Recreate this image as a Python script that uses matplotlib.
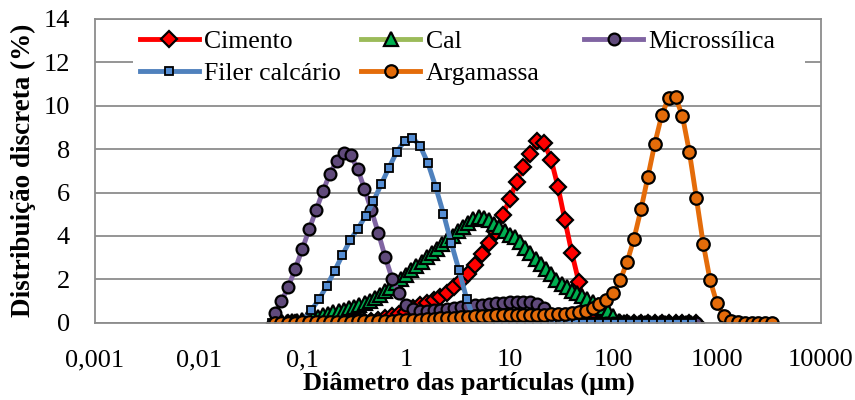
import matplotlib
matplotlib.use('Agg')
import matplotlib.pyplot as plt
from matplotlib.ticker import FixedLocator, FixedFormatter, NullLocator
from matplotlib.patches import Rectangle

plt.rcParams['font.family'] = ['Liberation Serif', 'DejaVu Serif']

# diameters (um) - common grid (cimento, microssilica, argamassa)
diam = [0.0540, 0.0630, 0.0734, 0.0856, 0.0998, 0.1163, 0.1356, 0.1581, 0.1844, 0.2150, 0.2506, 0.2922, 0.3407, 0.3972, 0.4632,
        0.540, 0.630, 0.734, 0.856, 0.998, 1.163, 1.356, 1.581, 1.844, 2.150, 2.506, 2.922, 3.407, 3.972, 4.632,
        5.40, 6.30, 7.34, 8.56, 9.98, 11.63, 13.56, 15.81, 18.44, 21.50, 25.06, 29.22, 34.07, 39.72, 46.32,
        54.0, 63.0, 73.4, 85.6, 99.8, 116.3, 135.6, 158.1, 184.4, 215.0, 250.6, 292.2, 340.7, 397.2, 463.2,
        540, 630, 734, 856, 998, 1163, 1356, 1581, 1844, 2150, 2506, 2922, 3407]

cimento = [0.0, 0.0, 0.0, 0.01, 0.01, 0.01, 0.02, 0.02, 0.02, 0.03, 0.03, 0.04, 0.05,
           0.06, 0.1, 0.15, 0.22, 0.3, 0.4, 0.51, 0.66, 0.81, 0.92, 1.04, 1.2, 1.38, 1.66, 1.93,
           2.24, 2.65, 3.16, 3.68, 4.19, 4.95, 5.69, 6.49, 7.18, 7.79, 8.35, 8.28, 7.52, 6.26,
           4.72, 3.22, 1.89, 0.6, 0.1,
           0, 0, 0, 0, 0, 0, 0, 0, 0, 0, 0, 0, 0, 0, 0]

microssilica = [0.43, 1.0, 1.66, 2.5, 3.38, 4.30, 5.18, 6.06, 6.87, 7.45, 7.82, 7.71, 7.10, 6.18,
                5.18, 4.15, 3.03, 2.04, 1.35, 0.81,
                0.62, 0.55, 0.55, 0.57, 0.6, 0.64, 0.68, 0.72, 0.76, 0.8, 0.84, 0.87, 0.9, 0.92,
                0.94, 0.96, 0.97, 0.95, 0.88, 0.7, 0.35, 0.08,
                0, 0, 0, 0, 0, 0, 0, 0, 0, 0, 0, 0, 0, 0, 0, 0, 0, 0, 0, 0]

argamassa = [0.0, 0.0, 0.01, 0.01, 0.02, 0.02, 0.03, 0.03, 0.04, 0.04,
             0.05, 0.05, 0.06, 0.07, 0.07, 0.08, 0.09, 0.1, 0.11, 0.12,
             0.13, 0.15, 0.16, 0.18, 0.2, 0.22, 0.24, 0.26, 0.28, 0.3,
             0.32, 0.33, 0.34, 0.35, 0.36, 0.36, 0.37, 0.37, 0.38, 0.38,
             0.39, 0.4, 0.42, 0.45, 0.5, 0.56, 0.66, 0.85, 1.04, 1.35,
             1.96, 2.8, 3.88, 5.22, 6.72, 8.25, 9.55, 10.37, 10.4, 9.52,
             7.87, 5.77, 3.65, 1.96, 0.89, 0.32, 0.09, 0.02, 0.01, 0.0,
             0.0, 0.0, 0.0]

# filer calcario grid
diam_filer = [0.0514, 0.0611, 0.0726, 0.0863, 0.1026, 0.1219, 0.1449, 0.1722, 0.2046, 0.2432,
              0.2891, 0.3436, 0.4083, 0.4853, 0.5768, 0.6855, 0.8147, 0.9683, 1.151, 1.368,
              1.626, 1.932, 2.296, 2.729, 3.243, 3.855, 4.581, 5.445, 6.471, 7.691,
              9.141, 10.86, 12.91, 15.35, 18.24, 21.68, 25.76, 30.62, 36.39, 43.25,
              51.40, 61.09, 72.61, 86.30, 102.6, 121.9, 144.9, 172.2, 204.6, 243.2,
              289.1, 343.6, 408.3, 485.3, 576.8]
filer = [0, 0, 0, 0, 0.1, 0.58, 1.08, 1.70, 2.39, 3.11, 3.80, 4.34, 4.92, 5.60, 6.38, 7.15,
         7.87, 8.37, 8.53, 8.14, 7.36, 6.26, 5.03, 3.68, 2.42, 1.09, 0.1,
         0, 0, 0, 0, 0, 0, 0, 0, 0, 0, 0, 0, 0, 0, 0, 0, 0, 0, 0, 0, 0, 0, 0, 0, 0, 0, 0, 0]

# cal grid
diam_cal = [0.0562, 0.0631, 0.0708, 0.0794, 0.0891,
            0.100, 0.1122, 0.1259, 0.1413, 0.1585, 0.1778, 0.1995, 0.2239, 0.2512, 0.2818,
            0.3162, 0.3548, 0.3981, 0.4467, 0.5012, 0.5623, 0.6310, 0.7079, 0.7943, 0.8913,
            1.000, 1.122, 1.259, 1.413, 1.585, 1.778, 1.995, 2.239, 2.512, 2.818,
            3.162, 3.548, 3.981, 4.467, 5.012, 5.623, 6.310, 7.079, 7.943, 8.913,
            10.00, 11.22, 12.59, 14.13, 15.85, 17.78, 19.95, 22.39, 25.12, 28.18,
            31.62, 35.48, 39.81, 44.67, 50.12, 56.23, 63.10, 70.79, 79.43, 89.13,
            100.0, 112.2, 125.9, 141.3, 158.5, 177.8, 199.5, 223.9, 251.2, 281.8,
            316.2, 354.8, 398.1, 446.7, 501.2, 562.3]
cal = [0.02, 0.03, 0.04, 0.06, 0.08, 0.12, 0.16, 0.21, 0.27, 0.34,
       0.41, 0.48, 0.54, 0.6, 0.66, 0.74, 0.82, 0.9, 1.0, 1.12,
       1.29, 1.45, 1.62, 1.82, 2.02, 2.22, 2.42, 2.62, 2.81, 3.01,
       3.21, 3.41, 3.61, 3.81, 4.01, 4.21, 4.41, 4.61, 4.76, 4.86,
       4.84, 4.74, 4.56, 4.40, 4.23, 4.06, 3.95, 3.73, 3.45, 3.2,
       2.96, 2.73, 2.5, 2.23, 1.99, 1.80, 1.64, 1.47, 1.35, 1.24,
       1.1, 0.96, 0.82, 0.68, 0.53, 0.3, 0.1, 0.02, 0, 0,
       0, 0, 0, 0, 0, 0, 0, 0, 0, 0, 0]

xticks = [0.001, 0.01, 0.1, 1, 10, 100, 1000, 10000]
xlabels = ['0,001', '0,01', '0,1', '1', '10', '100', '1000', '10000']

fig = plt.figure(figsize=(8.55, 4), dpi=100)
ax = fig.add_axes([0.111, 0.193, 0.849, 0.760])

h_cim, = ax.plot(diam[:len(cimento)], cimento, color='#FF0000', lw=3.5, marker='D', ms=8.5,
                 mfc='#FF0000', mec='black', mew=1.6, label='Cimento')
h_cal, = ax.plot(diam_cal, cal, color='#9BBB59', lw=3.5, marker='^', ms=9.5,
                 mfc='#00B050', mec='black', mew=1.6, label='Cal')
h_mic, = ax.plot(diam[:len(microssilica)], microssilica, color='#8064A2', lw=3.5, marker='o', ms=8.5,
                 mfc='#604A7B', mec='black', mew=1.6, label='Microssílica')
h_fil, = ax.plot(diam_filer, filer, color='#4F81BD', lw=3.5, marker='s', ms=5.5,
                 mfc='#558ED5', mec='black', mew=1.3, label='Filer calcário')
h_arg, = ax.plot(diam, argamassa, color='#E46C0A', lw=3.5, marker='o', ms=9,
                 mfc='#E46C0A', mec='black', mew=1.6, label='Argamassa')

ax.set_xscale('log')
ax.set_xlim(0.001, 10000)
ax.set_ylim(0, 14)
ax.xaxis.set_major_locator(FixedLocator(xticks))
ax.xaxis.set_major_formatter(FixedFormatter(xlabels))
ax.xaxis.set_minor_locator(NullLocator())
ax.set_yticks(range(0, 15, 2))
ax.tick_params(axis='both', length=0, labelsize=19)
ax.tick_params(axis='x', pad=19)
ax.tick_params(axis='y', pad=18)
ax.grid(axis='y', color='#8C8C8C', lw=1.3)
ax.set_axisbelow(True)
for s in ax.spines.values():
    s.set_color('#8C8C8C')
    s.set_linewidth(1.3)

ax.set_xlabel('Diâmetro das partículas (μm)', fontsize=19, fontweight='bold', labelpad=0)
ax.xaxis.label.set_x(0.515)
ax.set_ylabel('Distribuição discreta (%)', fontsize=19.5, fontweight='bold', labelpad=5)

# white area behind the legend (hides the 12 gridline, as in the original)
ax.add_patch(Rectangle((0.052, 0.77), 0.926, 0.215, transform=ax.transAxes,
                       facecolor='white', edgecolor='none', zorder=1))

columns = [([h_cim, h_fil], ['Cimento', 'Filer calcário'], 0.062),
           ([h_cal, h_arg], ['Cal', 'Argamassa'], 0.367),
           ([h_mic], ['Microssílica'], 0.674)]
for n, (handles, labels, x0) in enumerate(columns):
    lg = ax.legend(handles, labels, loc='upper left', bbox_to_anchor=(x0, 0.963),
                   fontsize=18.5, frameon=False, handlelength=2.3, handletextpad=0.2,
                   labelspacing=0.36, borderpad=0, borderaxespad=0)
    if n < len(columns) - 1:
        ax.add_artist(lg)

fig.savefig('out.png', dpi=100)
